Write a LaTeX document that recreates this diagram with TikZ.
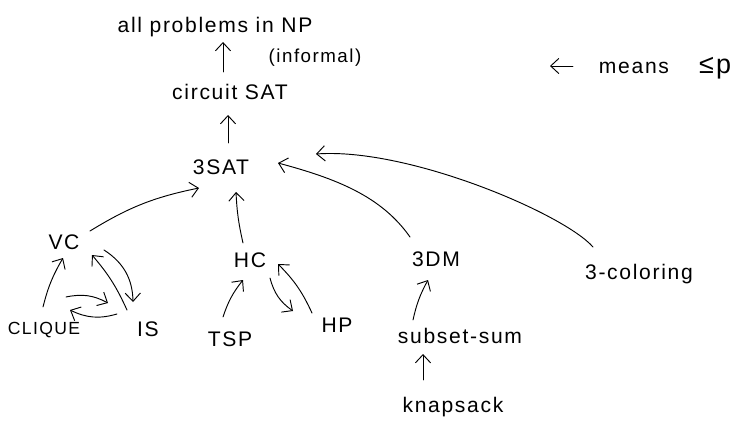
\documentclass[tikz,border=0pt]{standalone}
\usepackage{fontspec}
\setmainfont{Liberation Sans}[LetterSpace=8]
\usetikzlibrary{arrows.meta}

\begin{document}
\begin{tikzpicture}[x=0.03cm, y=0.03cm,
  every node/.style={font=\fontsize{18}{20}\selectfont, inner sep=0pt, anchor=base},
  reduce/.style={-{Straight Barb[length=7pt,width=13pt]}, line width=0.8pt, line cap=round}]
  \useasboundingbox (0,0) rectangle (743,-421);

  % chain up to NP
  \node (np) at (215,-32) {all problems in NP};
  \node[font=\fontsize{16}{18}\selectfont] (informal) at (315,-62) {(informal)};
  \node (csat) at (230,-99) {circuit SAT};
  \node (sat) at (221,-174) {3SAT};

  % graph problems
  \node (vc) at (64,-249) {VC};
  \node[font=\fontsize{15}{17}\selectfont] (clique) at (44,-334) {CLIQUE};
  \node (is) at (148,-336) {IS};
  \node (hc) at (250,-267) {HC};
  \node (tsp) at (230,-346) {TSP};
  \node (hp) at (337,-332) {HP};

  % the rest
  \node (tdm) at (436,-266) {3DM};
  \node (col) at (639,-279) {3-coloring};
  \node (ssum) at (460,-343) {subset-sum};
  \node (knap) at (453,-412) {knapsack};

  % legend
  \node (means) at (634,-73) {means};
  \node[anchor=base west, font=\fontsize{23}{25}\selectfont] (leq) at (699,-73) {≤p};
  \draw[reduce] ([shift={(-61,7)}]means.base) -- ([shift={(-84,7)}]means.base);

  % reductions
  \draw[reduce] ([shift={(-7,27)}]csat.base) -- ([shift={(8,-10)}]np.base);
  \draw[reduce] ([shift={(7,31)}]sat.base) -- ([shift={(-2,-16)}]csat.base);
  \draw[reduce] ([shift={(26,18)}]vc.base) to[bend left=10] ([shift={(-22,-14)}]sat.base);
  \draw[reduce] ([shift={(-7,24)}]hc.base) to[bend left=5] ([shift={(15,-18)}]sat.base);
  \draw[reduce] ([shift={(-26,29)}]tdm.base)
    to[out=125, in=-15, out distance=1.5cm, in distance=1.8cm] ([shift={(57,11)}]sat.base);
  \draw[reduce] ([shift={(-46,32)}]col.base)
    to[out=131, in=4, out distance=1.3cm, in distance=2.8cm] ([shift={(95,20)}]sat.base);

  \draw[reduce] ([shift={(-1,27)}]clique.base) to[bend left=8] ([shift={(-1,-9)}]vc.base);
  \draw[reduce] ([shift={(40,-1)}]vc.base) to[bend left=28] ([shift={(-15,34)}]is.base);
  \draw[reduce] ([shift={(-21,26)}]is.base) to[bend right=8] ([shift={(28,-6)}]vc.base);
  \draw[reduce] ([shift={(22,37)}]clique.base) to[bend left=20] ([shift={(-40,33)}]is.base);
  \draw[reduce] ([shift={(-31,22)}]is.base) to[bend left=21] ([shift={(26,24)}]clique.base);

  \draw[reduce] ([shift={(-7,29)}]tsp.base) to[bend left=10] ([shift={(-7,-13)}]hc.base);
  \draw[reduce] ([shift={(20,-11)}]hc.base) to[bend right=20] ([shift={(-44,21)}]hp.base);
  \draw[reduce] ([shift={(-25,19)}]hp.base) to[bend right=10] ([shift={(28,3)}]hc.base);

  \draw[reduce] ([shift={(-47,23)}]ssum.base) to[bend left=8] ([shift={(-8,-14)}]tdm.base);
  \draw[reduce] ([shift={(-30,32)}]knap.base) -- ([shift={(-37,-11)}]ssum.base);
\end{tikzpicture}
\end{document}
